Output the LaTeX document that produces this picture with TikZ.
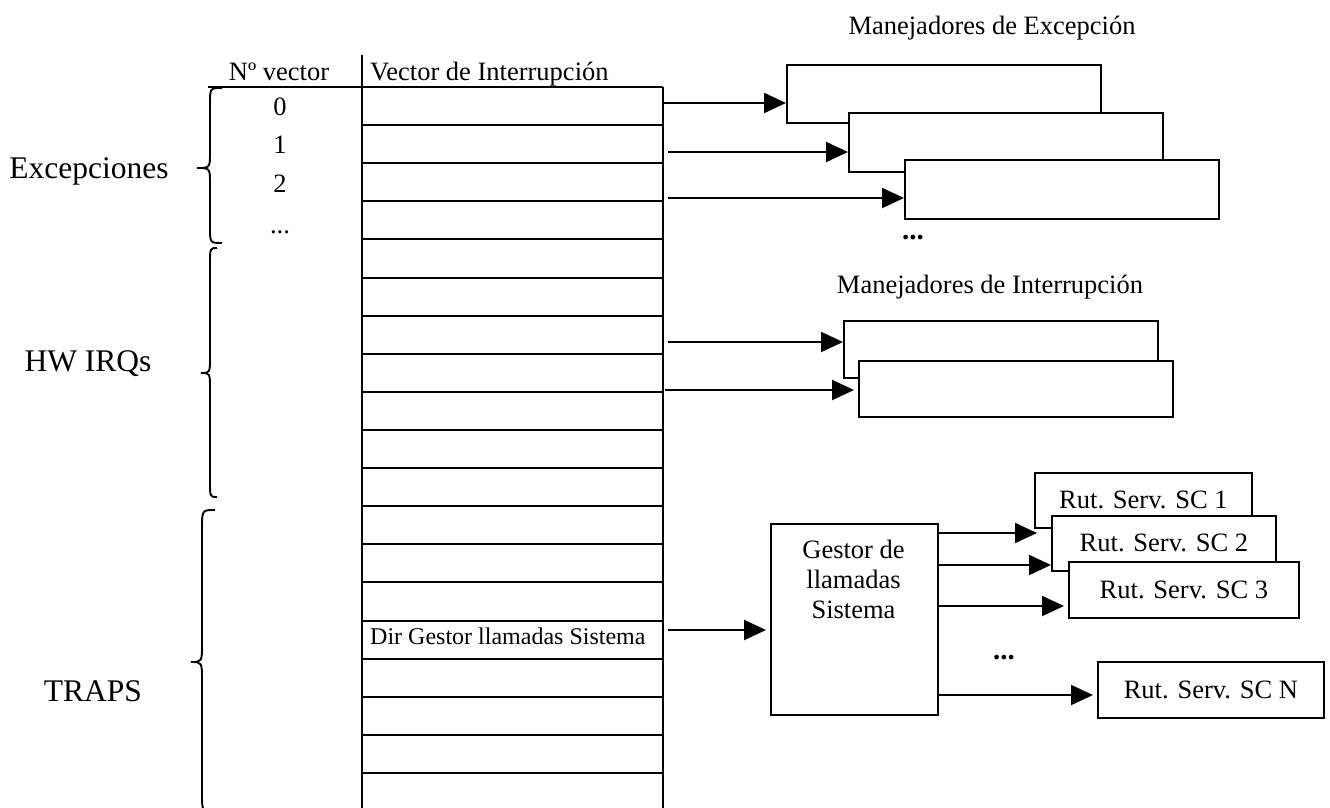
\documentclass[tikz,border=0pt]{standalone}
\usepackage{fontspec}
\setmainfont{Liberation Serif}
\usetikzlibrary{arrows.meta,calc}
\newcommand\szN{\fontsize{26.5}{30}\selectfont}
\newcommand\szB{\fontsize{31.5}{36}\selectfont}
\newcommand\szS{\fontsize{24}{28}\selectfont}
\newcommand\mybrace[7]{\draw[brc] (#1,#4) .. controls (#2,#4) .. (#2,{#4+#7}) -- (#2,{#5-#7}) .. controls (#2,#5) .. (#3,#5) .. controls (#2,#5) .. (#2,{#5+#7}) -- (#2,{#6-#7}) .. controls (#2,#6) .. (#1,#6);}
\begin{document}
\begin{tikzpicture}[x=1pt,y=-1pt,
 ln/.style={line width=2pt},
 box/.style={draw,line width=1.8pt,fill=white,inner sep=0pt,anchor=north west,font=\szN},
 arr/.style={line width=2pt,-{Triangle[length=22pt,width=20pt]}},
 brc/.style={line width=1.9pt},
 txt/.style={inner sep=0pt,font=\szN}]
\clip (0,0) rectangle (1330,808);
\fill[white] (0,0) rectangle (1330,808);
% table
\draw[ln] (362,55) -- (362,808);
\draw[ln] (663,87) -- (663,808);
\draw[ln] (208,87) -- (663,87);
\foreach \k in {1,...,18} \draw[ln] (362,{87+38.11*\k}) -- (663,{87+38.11*\k});
% headers
\node[txt,anchor=base] (hnum) at (279,81) {Nº vector};
\node[txt,anchor=base west] (hvec) at (370,81) {Vector de Interrupción};
\node[txt,anchor=base] (n0) at (280,115) {0};
\node[txt,anchor=base] (n1) at (280,153) {1};
\node[txt,anchor=base] (n2) at (280,192) {2};
\node[txt,anchor=base] (n3) at (280,233) {...};
\node[txt,anchor=base west,font=\szS] (dir) at (370,644) {Dir Gestor llamadas Sistema};
% group labels and braces
\node[txt,anchor=base,font=\szB] (lexc) at (89,178) {Excepciones};
\node[txt,anchor=base,font=\szB] (lhw) at (88,371) {HW IRQs};
\node[txt,anchor=base,font=\szB] (ltr) at (93,701) {TRAPS};
\mybrace{222}{210}{197}{88}{168}{243}{16}
\mybrace{217}{210}{201}{248}{373}{497}{16}
\mybrace{215}{202}{191}{510}{662}{812}{19}
% exception handlers
\node[txt,anchor=base] (texc) at (992,35) {Manejadores de Excepción};
\node[box,minimum width=314pt,minimum height=58pt] (exc1) at (786,64) {};
\node[box,minimum width=314pt,minimum height=59pt] (exc2) at (848,112) {};
\node[box,minimum width=314pt,minimum height=59pt] (exc3) at (904,159) {};
\node[txt,anchor=base west,font=\fontsize{29}{32}\selectfont] (edots) at (902,239) {\textbf{...}};
\coordinate (e1) at (663,103);
\coordinate (e2) at (668,152);
\coordinate (e3) at (668,198);
\draw[arr] (e1) -- (exc1.west |- e1);
\draw[arr] (e2) -- (exc2.west |- e2);
\draw[arr] (e3) -- (exc3.west |- e3);
% interrupt handlers
\node[txt,anchor=base] (tirq) at (990,293) {Manejadores de Interrupción};
\node[box,minimum width=314pt,minimum height=57pt] (irqA) at (843,320) {};
\node[box,minimum width=314pt,minimum height=56pt] (irqB) at (858,360) {};
\coordinate (i1) at (668,342);
\coordinate (i2) at (665,390);
\draw[arr] (i1) -- (irqA.west |- i1);
\draw[arr] (i2) -- ($(irqB.west |- i2)+(-4,0)$);
% system call manager
\node[box,minimum width=167pt,minimum height=191pt] (gestor) at (770,523) {};
\node[txt,anchor=base,align=center] (gtxt) at (853.5,618) {Gestor de\\llamadas\\Sistema};
\node[box,minimum width=217pt,minimum height=55pt] (sc1) at (1034,472) {Rut. Serv. SC 1};
\node[box,minimum width=224pt,minimum height=55pt] (sc2) at (1051,515) {Rut. Serv. SC 2};
\node[box,minimum width=230pt,minimum height=56pt] (sc3) at (1068,561) {Rut. Serv. SC 3};
\node[box,minimum width=226pt,minimum height=56pt] (scn) at (1097,661) {Rut. Serv. SC N};
\node[txt,anchor=base west,font=\fontsize{29}{32}\selectfont] (sdots) at (993,659) {\textbf{...}};
\coordinate (g0) at (668,630);
\draw[arr] (g0) -- ($(gestor.west |- g0)+(-4,0)$);
\coordinate (s1) at (1037,533);
\coordinate (s2) at (1051,565);
\coordinate (s3) at (1064,606);
\coordinate (s4) at (1093,695);
\draw[arr] (gestor.east |- s1) -- (s1);
\draw[arr] (gestor.east |- s2) -- (sc2.west |- s2);
\draw[arr] (gestor.east |- s3) -- ($(sc3.west |- s3)+(-4,0)$);
\draw[arr] (gestor.east |- s4) -- ($(scn.west |- s4)+(-4,0)$);
\end{tikzpicture}
\end{document}
